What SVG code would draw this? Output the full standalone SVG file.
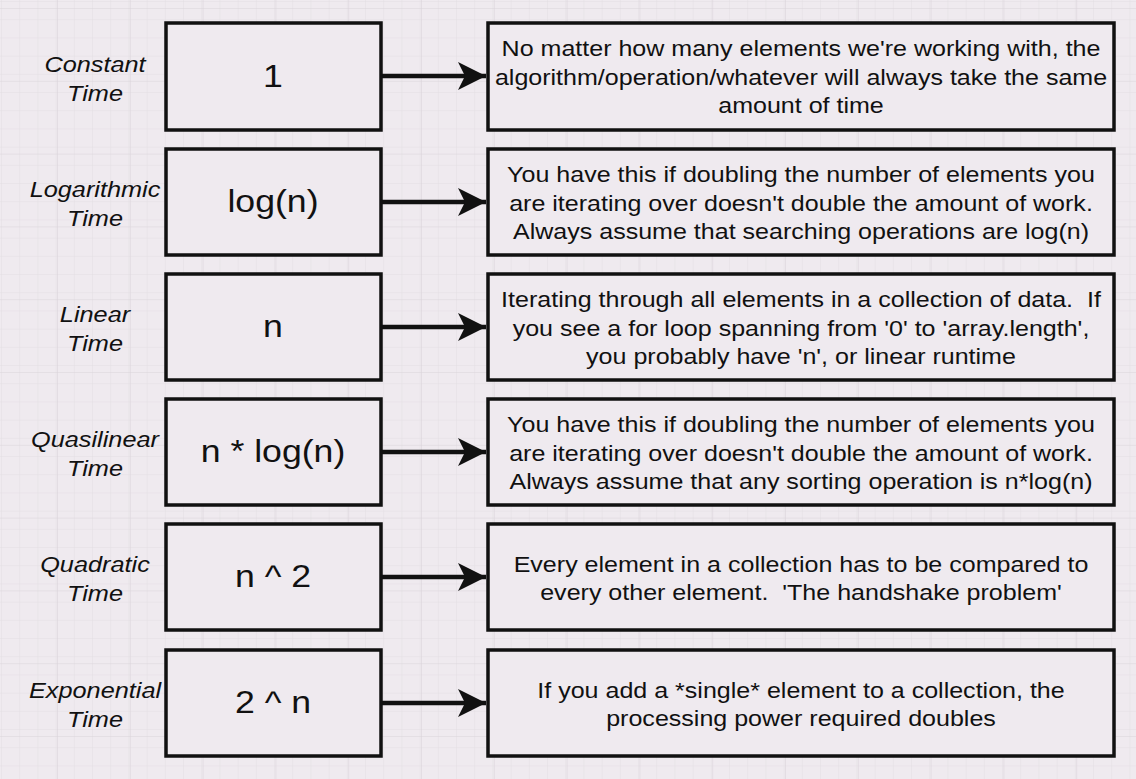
<svg xmlns="http://www.w3.org/2000/svg" width="1136" height="779" viewBox="0 0 1136 779">
<defs>
<pattern id="minor" width="18.2" height="18.2" patternUnits="userSpaceOnUse" x="2" y="2">
<path d="M18.2 0V18.2H0" fill="none" stroke="#e3dee3" stroke-width="1"/>
</pattern>
<pattern id="major" width="72.8" height="72.8" patternUnits="userSpaceOnUse" x="57" y="8">
<path d="M0 0V72.8M0 0H72.8" fill="none" stroke="#dad4da" stroke-width="1.2"/>
</pattern>
<marker id="arr" markerUnits="userSpaceOnUse" markerWidth="30" markerHeight="30" refX="28" refY="14" orient="auto" viewBox="0 0 30 28">
<path d="M0 0 L28 14 L0 28 L7 14 Z" fill="#111"/>
</marker>
</defs>
<style>
.box{fill:#efeaef;stroke:#111;stroke-width:3.5}
.lbl{font-family:"Liberation Sans",Arial,sans-serif;font-style:italic;font-size:22px;fill:#111;text-anchor:middle}
.big{font-family:"Liberation Sans",Arial,sans-serif;font-size:31px;fill:#111;text-anchor:middle}
.desc{font-family:"Liberation Sans",Arial,sans-serif;font-size:21.5px;fill:#111;text-anchor:middle}
.conn{stroke:#111;stroke-width:4.5;fill:none}
</style>
<rect width="1136" height="779" fill="#efeaef"/>
<rect width="1136" height="779" fill="url(#minor)"/>
<rect width="1136" height="779" fill="url(#major)"/>

<g id="connectors">
<path class="conn" d="M382 76H486" marker-end="url(#arr)"/>
<path class="conn" d="M382 202H486" marker-end="url(#arr)"/>
<path class="conn" d="M382 327H486" marker-end="url(#arr)"/>
<path class="conn" d="M382 452H486" marker-end="url(#arr)"/>
<path class="conn" d="M382 577H486" marker-end="url(#arr)"/>
<path class="conn" d="M382 703H486" marker-end="url(#arr)"/>
</g>

<g id="label-constant"><text class="lbl" transform="translate(95 72) scale(1.15 1)">Constant</text><text class="lbl" transform="translate(95 101) scale(1.15 1)">Time</text></g>
<g id="node-1"><rect class="box" x="166" y="23" width="215" height="107"/><text class="big" transform="translate(273 87) scale(1.15 1)">1</text></g>
<g id="desc-1"><rect class="box" x="488" y="23" width="626" height="107"/>
<text class="desc" transform="translate(801 56) scale(1.165 1)">No matter how many elements we're working with, the</text>
<text class="desc" transform="translate(801 85) scale(1.165 1)">algorithm/operation/whatever will always take the same</text>
<text class="desc" transform="translate(801 113) scale(1.165 1)">amount of time</text></g>

<g id="label-log"><text class="lbl" transform="translate(95 197) scale(1.15 1)">Logarithmic</text><text class="lbl" transform="translate(95 226) scale(1.15 1)">Time</text></g>
<g id="node-2"><rect class="box" x="166" y="149" width="215" height="106"/><text class="big" transform="translate(273 212) scale(1.15 1)">log(n)</text></g>
<g id="desc-2"><rect class="box" x="488" y="149" width="626" height="106"/>
<text class="desc" transform="translate(801 182) scale(1.165 1)">You have this if doubling the number of elements you</text>
<text class="desc" transform="translate(801 211) scale(1.165 1)">are iterating over doesn't double the amount of work.</text>
<text class="desc" transform="translate(801 239) scale(1.165 1)">Always assume that searching operations are log(n)</text></g>

<g id="label-linear"><text class="lbl" transform="translate(95 322) scale(1.15 1)">Linear</text><text class="lbl" transform="translate(95 351) scale(1.15 1)">Time</text></g>
<g id="node-3"><rect class="box" x="166" y="274" width="215" height="106"/><text class="big" transform="translate(273 337) scale(1.15 1)">n</text></g>
<g id="desc-3"><rect class="box" x="488" y="274" width="626" height="106"/>
<text class="desc" transform="translate(801 307) scale(1.165 1)" xml:space="preserve">Iterating through all elements in a collection of data.  If</text>
<text class="desc" transform="translate(801 336) scale(1.165 1)">you see a for loop spanning from '0' to 'array.length',</text>
<text class="desc" transform="translate(801 364) scale(1.165 1)">you probably have 'n', or linear runtime</text></g>

<g id="label-quasi"><text class="lbl" transform="translate(95 447) scale(1.15 1)">Quasilinear</text><text class="lbl" transform="translate(95 476) scale(1.15 1)">Time</text></g>
<g id="node-4"><rect class="box" x="166" y="399" width="215" height="106"/><text class="big" transform="translate(273 462) scale(1.15 1)">n * log(n)</text></g>
<g id="desc-4"><rect class="box" x="488" y="399" width="626" height="106"/>
<text class="desc" transform="translate(801 432) scale(1.165 1)">You have this if doubling the number of elements you</text>
<text class="desc" transform="translate(801 461) scale(1.165 1)">are iterating over doesn't double the amount of work.</text>
<text class="desc" transform="translate(801 489) scale(1.165 1)">Always assume that any sorting operation is n*log(n)</text></g>

<g id="label-quad"><text class="lbl" transform="translate(95 572) scale(1.15 1)">Quadratic</text><text class="lbl" transform="translate(95 601) scale(1.15 1)">Time</text></g>
<g id="node-5"><rect class="box" x="166" y="524" width="215" height="106"/><text class="big" transform="translate(273 587) scale(1.15 1)">n ^ 2</text></g>
<g id="desc-5"><rect class="box" x="488" y="524" width="626" height="106"/>
<text class="desc" transform="translate(801 572) scale(1.165 1)">Every element in a collection has to be compared to</text>
<text class="desc" transform="translate(801 600) scale(1.165 1)" xml:space="preserve">every other element.  'The handshake problem'</text></g>

<g id="label-exp"><text class="lbl" transform="translate(95 698) scale(1.15 1)">Exponential</text><text class="lbl" transform="translate(95 727) scale(1.15 1)">Time</text></g>
<g id="node-6"><rect class="box" x="166" y="650" width="215" height="106"/><text class="big" transform="translate(273 713) scale(1.15 1)">2 ^ n</text></g>
<g id="desc-6"><rect class="box" x="488" y="650" width="626" height="106"/>
<text class="desc" transform="translate(801 698) scale(1.165 1)">If you add a *single* element to a collection, the</text>
<text class="desc" transform="translate(801 726) scale(1.165 1)">processing power required doubles</text></g>
</svg>
